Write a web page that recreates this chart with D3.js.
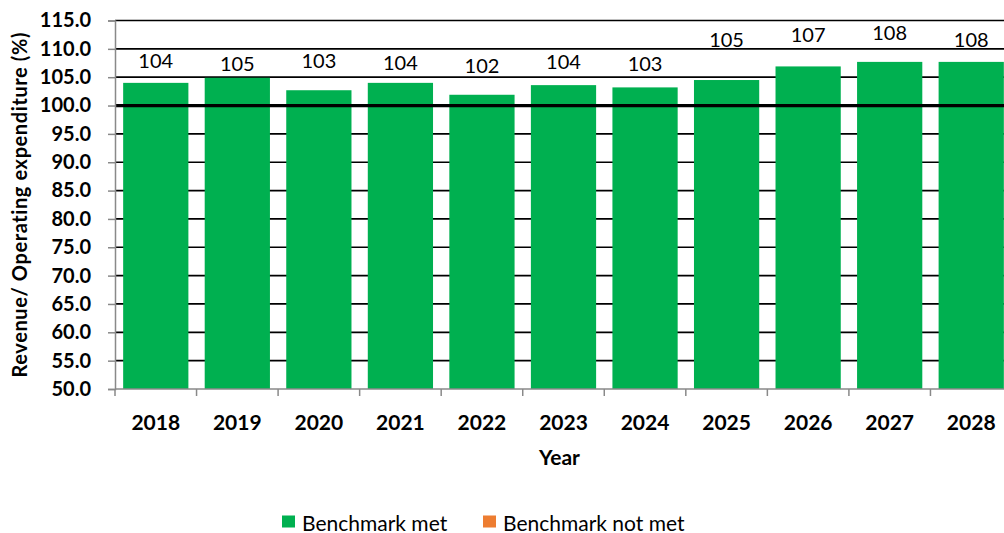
<!DOCTYPE html>
<html>
<head>
<meta charset="utf-8">
<script src="https://cdn.jsdelivr.net/npm/d3@7"></script>
<style>
  html, body { margin: 0; padding: 0; background: #fff; }
  svg { display: block; font-family: Lato, "Open Sans", sans-serif; }
</style>
</head>
<body>
<svg id="chart" width="1004" height="533"></svg>
<script>
// Revenue as a share of operating expenditure, by year
const years = ["2018", "2019", "2020", "2021", "2022", "2023", "2024", "2025", "2026", "2027", "2028"];
const ratio = [104.0, 104.9, 102.7, 104.0, 101.9, 103.6, 103.2, 104.5, 106.9, 107.7, 107.7];
const benchmark = 100;
const yTicks = [50, 55, 60, 65, 70, 75, 80, 85, 90, 95, 100, 105, 110, 115];
const legendItems = ["Benchmark met", "Benchmark not met"];

// Layout: pixel lift of each value label above its bar
const labelLift = [23, 15, 30, 21, 30, 24, 24, 41, 32, 30, 23];

const colors = { met: "#00B050", notMet: "#ED7D31" };
const margin = { left: 115, top: 20.5, bottom: 389, right: 1012 };

const svg = d3.select("#chart");

const x = d3.scaleBand()
  .domain(years)
  .range([margin.left, margin.right])
  .paddingInner(0.2)
  .paddingOuter(0.1);

const y = d3.scaleLinear()
  .domain([50, 115])
  .range([margin.bottom, margin.top]);

// Horizontal gridlines
svg.append("g")
  .selectAll("line")
  .data(yTicks.filter(t => t > 50))
  .join("line")
  .attr("x1", margin.left)
  .attr("x2", margin.right)
  .attr("y1", d => y(d))
  .attr("y2", d => y(d))
  .attr("stroke", "#000")
  .attr("stroke-width", 1.7);

// Bars
svg.append("g")
  .selectAll("rect")
  .data(years.map((yr, i) => ({ yr, v: ratio[i], lift: labelLift[i] })))
  .join("rect")
  .attr("x", d => x(d.yr))
  .attr("width", x.bandwidth())
  .attr("y", d => y(d.v))
  .attr("height", d => y(50) - y(d.v))
  .attr("fill", d => d.v >= benchmark ? colors.met : colors.notMet);

// Benchmark line
svg.append("line")
  .attr("x1", margin.left)
  .attr("x2", margin.right)
  .attr("y1", y(benchmark))
  .attr("y2", y(benchmark))
  .attr("stroke", "#000")
  .attr("stroke-width", 3.2);

// Value labels
svg.append("g")
  .selectAll("text")
  .data(years.map((yr, i) => ({ yr, v: ratio[i], lift: labelLift[i] })))
  .join("text")
  .attr("x", d => x(d.yr) + x.bandwidth() / 2)
  .attr("y", d => y(d.v) - d.lift)
  .attr("text-anchor", "middle")
  .attr("dominant-baseline", "central")
  .attr("font-size", 20)
  .attr("fill", "#000")
  .text(d => d3.format(".0f")(d.v));

// Y axis
const yAxis = svg.append("g")
  .attr("transform", `translate(${margin.left},0)`)
  .call(d3.axisLeft(y).tickValues(yTicks).tickFormat(d3.format(".1f")).tickSize(7).tickPadding(17));
yAxis.select(".domain").attr("stroke", "#898989").attr("stroke-width", 1.5);
yAxis.selectAll(".tick line").attr("stroke", "#898989").attr("stroke-width", 1.5);
yAxis.selectAll(".tick text")
  .attr("font-family", "Lato, sans-serif")
  .attr("font-size", 20)
  .attr("font-weight", "bold")
  .attr("fill", "#000");

// X axis: baseline plus ticks on band boundaries
const xAxis = svg.append("g");
xAxis.append("line")
  .attr("x1", margin.left).attr("x2", margin.right)
  .attr("y1", y(50)).attr("y2", y(50))
  .attr("stroke", "#898989").attr("stroke-width", 1.5);
const step = x.step();
const bounds = years.map((yr, i) => x(yr) - step * x.paddingInner() / 2);
bounds.push(margin.right);
xAxis.selectAll("line.tk")
  .data(bounds)
  .join("line")
  .attr("class", "tk")
  .attr("x1", d => d).attr("x2", d => d)
  .attr("y1", y(50)).attr("y2", y(50) + 7)
  .attr("stroke", "#898989").attr("stroke-width", 1.5);
xAxis.selectAll("text")
  .data(years)
  .join("text")
  .attr("x", d => x(d) + x.bandwidth() / 2)
  .attr("y", 421)
  .attr("text-anchor", "middle")
  .attr("dominant-baseline", "central")
  .attr("font-size", 21)
  .attr("font-weight", "bold")
  .text(d => d);

// Axis titles
svg.append("text")
  .attr("x", (margin.left + margin.right) / 2 - 4)
  .attr("y", 456)
  .attr("text-anchor", "middle")
  .attr("dominant-baseline", "central")
  .attr("font-size", 21)
  .attr("font-weight", "bold")
  .text("Year");

svg.append("text")
  .attr("transform", `translate(19,${(margin.top + margin.bottom) / 2}) rotate(-90)`)
  .attr("text-anchor", "middle")
  .attr("dominant-baseline", "central")
  .attr("font-size", 20)
  .attr("font-weight", "bold")
  .attr("letter-spacing", 0.6)
  .text("Revenue/ Operating expenditure (%)");

// Legend
const legend = svg.append("g");
const legendX = [282, 483];
const legendColors = [colors.met, colors.notMet];
legendItems.forEach((name, i) => {
  legend.append("rect")
    .attr("x", legendX[i]).attr("y", 515.5)
    .attr("width", 13).attr("height", 12)
    .attr("fill", legendColors[i]);
  legend.append("text")
    .attr("x", legendX[i] + 20).attr("y", 522)
    .attr("dominant-baseline", "central")
    .attr("font-size", 21)
    .attr("fill", "#000")
    .text(name);
});
</script>
</body>
</html>
